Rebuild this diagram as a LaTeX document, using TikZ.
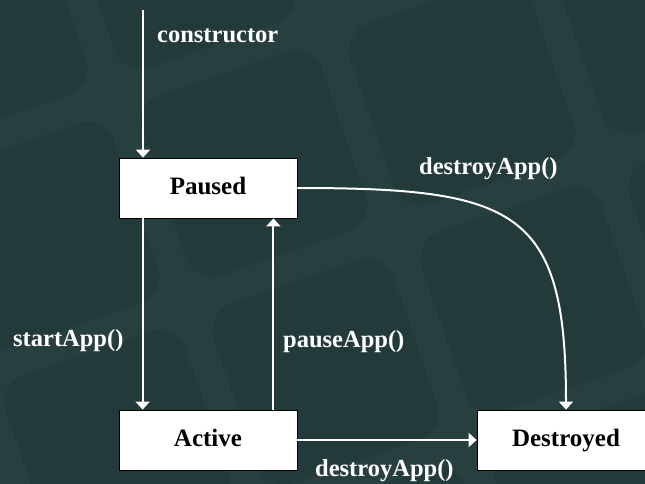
\documentclass[tikz,border=0pt]{standalone}
\usepackage{fontspec}
\setmainfont{Liberation Serif}
\usetikzlibrary{arrows.meta}
\definecolor{bgstrip}{HTML}{27403F}
\definecolor{bgtile}{HTML}{223A39}
\tikzset{
	state/.style={draw=black, line width=0.8pt, fill=white, minimum width=178pt, minimum height=60pt, inner sep=0pt, text height=17pt, text depth=5pt, font=\fontsize{25}{30}\selectfont\bfseries},
	trans/.style={white, line width=2pt, -{Triangle[width=14pt,length=8pt]}},
	lbl/.style={text=white, anchor=base west, inner sep=0pt, font=\fontsize{24.5}{29}\selectfont\bfseries},
}
\begin{document}
\begin{tikzpicture}[x=1pt,y=1pt]
		\useasboundingbox (0,0) rectangle (645,483);
		\begin{scope}
			\clip (-10,-10) rectangle (655,493);
			\fill[bgstrip] (-10,-10) rectangle (655,493);
			\begin{scope}[shift={(462,391)}, rotate=19]
				\foreach \i in {-3,...,2}
					\foreach \j in {-3,...,2}
						\fill[bgtile, rounded corners=28pt] (\i*220-95,\j*220-95) rectangle ++(190,190);
			\end{scope}
		\end{scope}
		\node (paused)[state] at (208,295) {Paused};
		\node (active)[state] at (208,43) {Active};
		\node (destroyed)[state] at (566,43) {Destroyed};
		\coordinate (init) at (143,473);
		\draw [trans](init) -- (init |- paused.north);
		\draw [trans]([xshift=24pt]paused.south west) -- ([xshift=24pt]active.north west);
		\draw [trans]([xshift=-24pt]active.north east) -- ([xshift=-24pt]paused.south east);
		\draw [trans](active.east) -- (destroyed.west);
		\draw [trans](paused.east) .. controls +(220,0) and +(0,200) .. (destroyed.north);
		\node (lconstructor)[lbl] at (157,440) {constructor};
		\node (lstart)[lbl] at (13,137) {startApp()};
		\node (lpause)[lbl] at (283,136) {pauseApp()};
		\node (ldestroytop)[lbl] at (419,309) {destroyApp()};
		\node (ldestroybot)[lbl] at (315,7) {destroyApp()};
	\end{tikzpicture}
\end{document}
